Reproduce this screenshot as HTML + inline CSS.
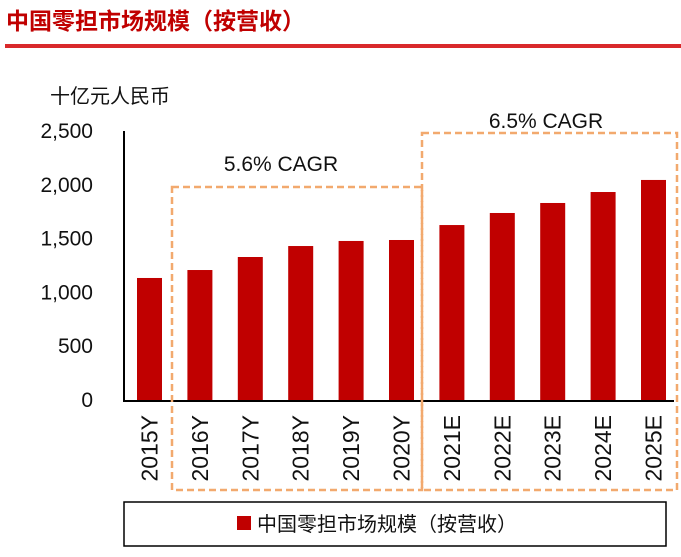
<!DOCTYPE html>
<html><head><meta charset="utf-8"><style>
body{margin:0;width:681px;height:552px;background:#fff;overflow:hidden;font-family:"Liberation Sans","Noto Sans CJK SC",sans-serif}
</style></head><body>
<svg width="681" height="552" font-family="Liberation Sans, Noto Sans CJK SC, sans-serif">
<text x="6" y="29" font-size="23" font-weight="bold" fill="#c00000">中国零担市场规模（按营收）</text>
<rect x="5" y="44" width="676" height="4" fill="#d9292b"/>
<text x="50" y="103" font-size="20" fill="#111">十亿元人民币</text>
<g id="yticks"></g>
<g id="bars"></g>
<g id="xlabels"></g>
<line x1="124" y1="131" x2="124" y2="401" stroke="#000" stroke-width="2"/>
<line x1="123" y1="401" x2="674" y2="401" stroke="#000" stroke-width="2"/>
<rect x="172" y="187" width="250" height="303" fill="none" stroke="#f2a96e" stroke-width="2.5" stroke-dasharray="7,4"/>
<rect x="422" y="133" width="255" height="357" fill="none" stroke="#f2a96e" stroke-width="2.5" stroke-dasharray="7,4"/>
<text x="281" y="171" font-size="21" text-anchor="middle" fill="#111">5.6% CAGR</text>
<text x="546" y="128" font-size="21" text-anchor="middle" fill="#111">6.5% CAGR</text>
<rect x="124" y="502" width="542" height="44" fill="#fff" stroke="#000" stroke-width="1.5"/>
<rect x="237" y="516" width="14" height="14" fill="#c00000"/>
<text x="257" y="531" font-size="20" fill="#111">中国零担市场规模（按营收）</text>
</svg>
<script>
const categories=["2015Y","2016Y","2017Y","2018Y","2019Y","2020Y","2021E","2022E","2023E","2024E","2025E"];
const values=[1134,1208,1329,1431,1478,1487,1626,1738,1831,1933,2045];
const yTicks=[0,500,1000,1500,2000,2500];
const yTickLabels=["0","500","1,000","1,500","2,000","2,500"];
const NS="http://www.w3.org/2000/svg";
const y=v=>400-v*269/2500;
const bw=50.4,x0=124.3;
const xc=i=>x0+bw*(i+0.5);
const yt=document.getElementById('yticks'),bg=document.getElementById('bars'),xl=document.getElementById('xlabels');
yTicks.forEach((t,i)=>{const e=document.createElementNS(NS,'text');


e.setAttribute('x',93);e.setAttribute('y',y(t)+7);e.setAttribute('text-anchor','end');e.setAttribute('font-size','21');e.setAttribute('fill','#111');e.textContent=yTickLabels[i];yt.appendChild(e);});
values.forEach((v,i)=>{const r=document.createElementNS(NS,'rect');


r.setAttribute('x',xc(i)-12.5);r.setAttribute('width',25);r.setAttribute('y',y(v));r.setAttribute('height',400-y(v));r.setAttribute('fill','#c00000');bg.appendChild(r);
const t=document.createElementNS(NS,'text');


t.setAttribute('font-size','23');t.setAttribute('fill','#111');t.setAttribute('text-anchor','end');
t.setAttribute('transform','translate('+(xc(i)+8)+',415) rotate(-90)');t.textContent=categories[i];xl.appendChild(t);});
</script>
</body></html>
